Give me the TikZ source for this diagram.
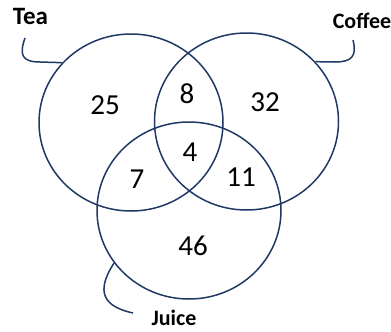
\documentclass[tikz,border=0pt]{standalone}
\usepackage{fontspec}
\setmainfont{Carlito}
\usetikzlibrary{shapes.geometric}
\definecolor{navy}{HTML}{1F3864}

\begin{document}
\begin{tikzpicture}[x=1pt,y=-1pt,
	set/.style={draw=navy,line width=1.5pt,ellipse,inner sep=0pt,minimum width=184pt,minimum height=177pt},
	num/.style={font=\fontsize{29}{31}\selectfont},
	lab/.style={inner sep=0pt,font=\fontsize{22}{24}\selectfont\bfseries},
	hook/.style={draw=navy,line width=1.5pt}]
		\useasboundingbox (0,0) rectangle (391,332);
		\node[set] (tea) at (131,122.5) {};
		\node[set] (coffee) at (246.5,121.5) {};
		\node[set] (juice) at (189,210.5) {};
		\node[lab,font=\fontsize{25}{27}\selectfont\bfseries] (tealab) at (30.5,16) {Tea};
		\node[lab] (coffeelab) at (362,20.5) {Coffee};
		\node[lab] (juicelab) at (174,318) {Juice};
		\coordinate (A) at (25,38);
		\coordinate (B) at (353,40);
		\coordinate (C) at (133,313);
		\draw[hook] (A) .. controls (19,55) and (22,62) .. (40,62) -- (tea.139);
		\draw[hook] (B) .. controls (357,56) and (352,62) .. (335,62) -- (coffee.41);
		\draw[hook] (juice.215) .. controls (100,285) and (96,305) .. (C);
		\node[num] (t) at (105,105) {25};
		\node[num] (tc) at (187,94) {8};
		\node[num] (c) at (265,102) {32};
		\node[num] (tcj) at (190,152) {4};
		\node[num] (tj) at (137,179) {7};
		\node[num] (cj) at (241,177) {11};
		\node[num] (j) at (193,246) {46};
\end{tikzpicture}
\end{document}
